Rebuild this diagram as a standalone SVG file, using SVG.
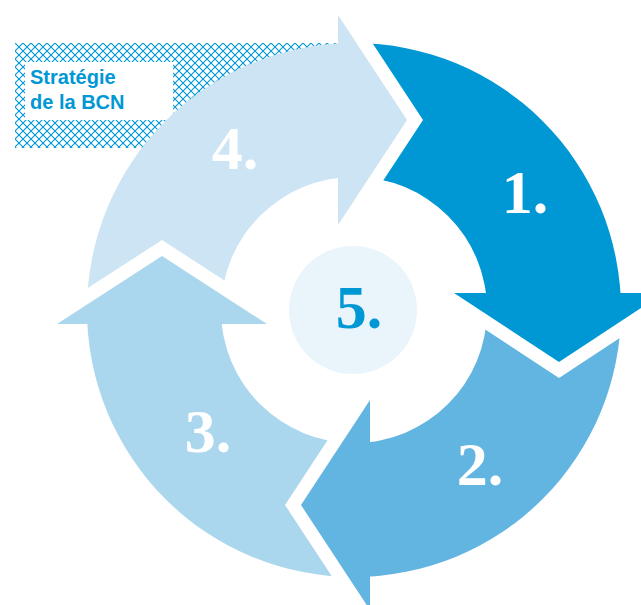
<svg xmlns="http://www.w3.org/2000/svg" xmlns:xlink="http://www.w3.org/1999/xlink" width="641" height="605" viewBox="0 0 641 605">
  <style>
    .num { font-family: "Liberation Serif", "DejaVu Serif", serif; font-weight: bold; font-size: 62px; text-anchor: middle; fill: #ffffff; }
    .lbl { font-family: "Liberation Sans", Arial, sans-serif; font-weight: bold; font-size: 20px; fill: #0098d4; }
  </style>
  <defs>
    <pattern id="hatch" patternUnits="userSpaceOnUse" x="15" y="43" width="8" height="8">
      <path d="M0 0 L8 8 M8 0 L0 8" stroke="#0098d4" stroke-width="1.1" fill="none"/>
    </pattern>
    <path id="ring" fill-rule="evenodd" d="M354 43 A267 267 0 1 1 354 577 A267 267 0 1 1 354 43 Z M354 177 A133 133 0 1 0 354 443 A133 133 0 1 0 354 177 Z"/>
    <clipPath id="c1"><polygon points="354,-100 354,15 423,120 354,225 354,293 800,293 800,-100"/></clipPath>
    <clipPath id="c2"><polygon points="800,309 664,309 559,378 454,309 370,309 370,800 800,800"/></clipPath>
    <clipPath id="c3"><polygon points="354,800 354,610 285,505 354,400 354,324 -100,324 -100,800"/></clipPath>
    <clipPath id="c4"><polygon points="-100,308 57,308 162,240 267,308 338,308 338,-100 -100,-100"/></clipPath>
  </defs>

  <g id="label-box">
    <rect x="15" y="43" width="325" height="105" fill="url(#hatch)"/>
    <rect x="25" y="62" width="148" height="58" fill="#ffffff"/>
    <text class="lbl" x="30" y="84">Stratégie</text>
    <text class="lbl" x="30" y="109">de la BCN</text>
  </g>

  <g id="step4">
    <use xlink:href="#ring" href="#ring" fill="#cce4f3" clip-path="url(#c4)"/>
    <polygon points="338,15 407,120 338,225" fill="#cce4f3"/>
    <text class="num" x="235" y="169">4.</text>
  </g>

  <g id="step1">
    <use xlink:href="#ring" href="#ring" fill="#0098d4" clip-path="url(#c1)"/>
    <polygon points="454,293 559,362 664,293" fill="#0098d4"/>
    <text class="num" x="525" y="213">1.</text>
  </g>

  <g id="step2">
    <use xlink:href="#ring" href="#ring" fill="#62b5e1" clip-path="url(#c2)"/>
    <polygon points="370,400 301,505 370,610" fill="#62b5e1"/>
    <text class="num" x="480" y="485">2.</text>
  </g>

  <g id="step3">
    <use xlink:href="#ring" href="#ring" fill="#aad6ee" clip-path="url(#c3)"/>
    <polygon points="57,324 162,256 267,324" fill="#aad6ee"/>
    <text class="num" x="208" y="452">3.</text>
  </g>

  <g id="step5">
    <circle cx="353" cy="310" r="64" fill="#eaf4fb"/>
    <text class="num" x="359" y="328" style="fill:#0098d4">5.</text>
  </g>

  <g id="connectors"/>
</svg>
